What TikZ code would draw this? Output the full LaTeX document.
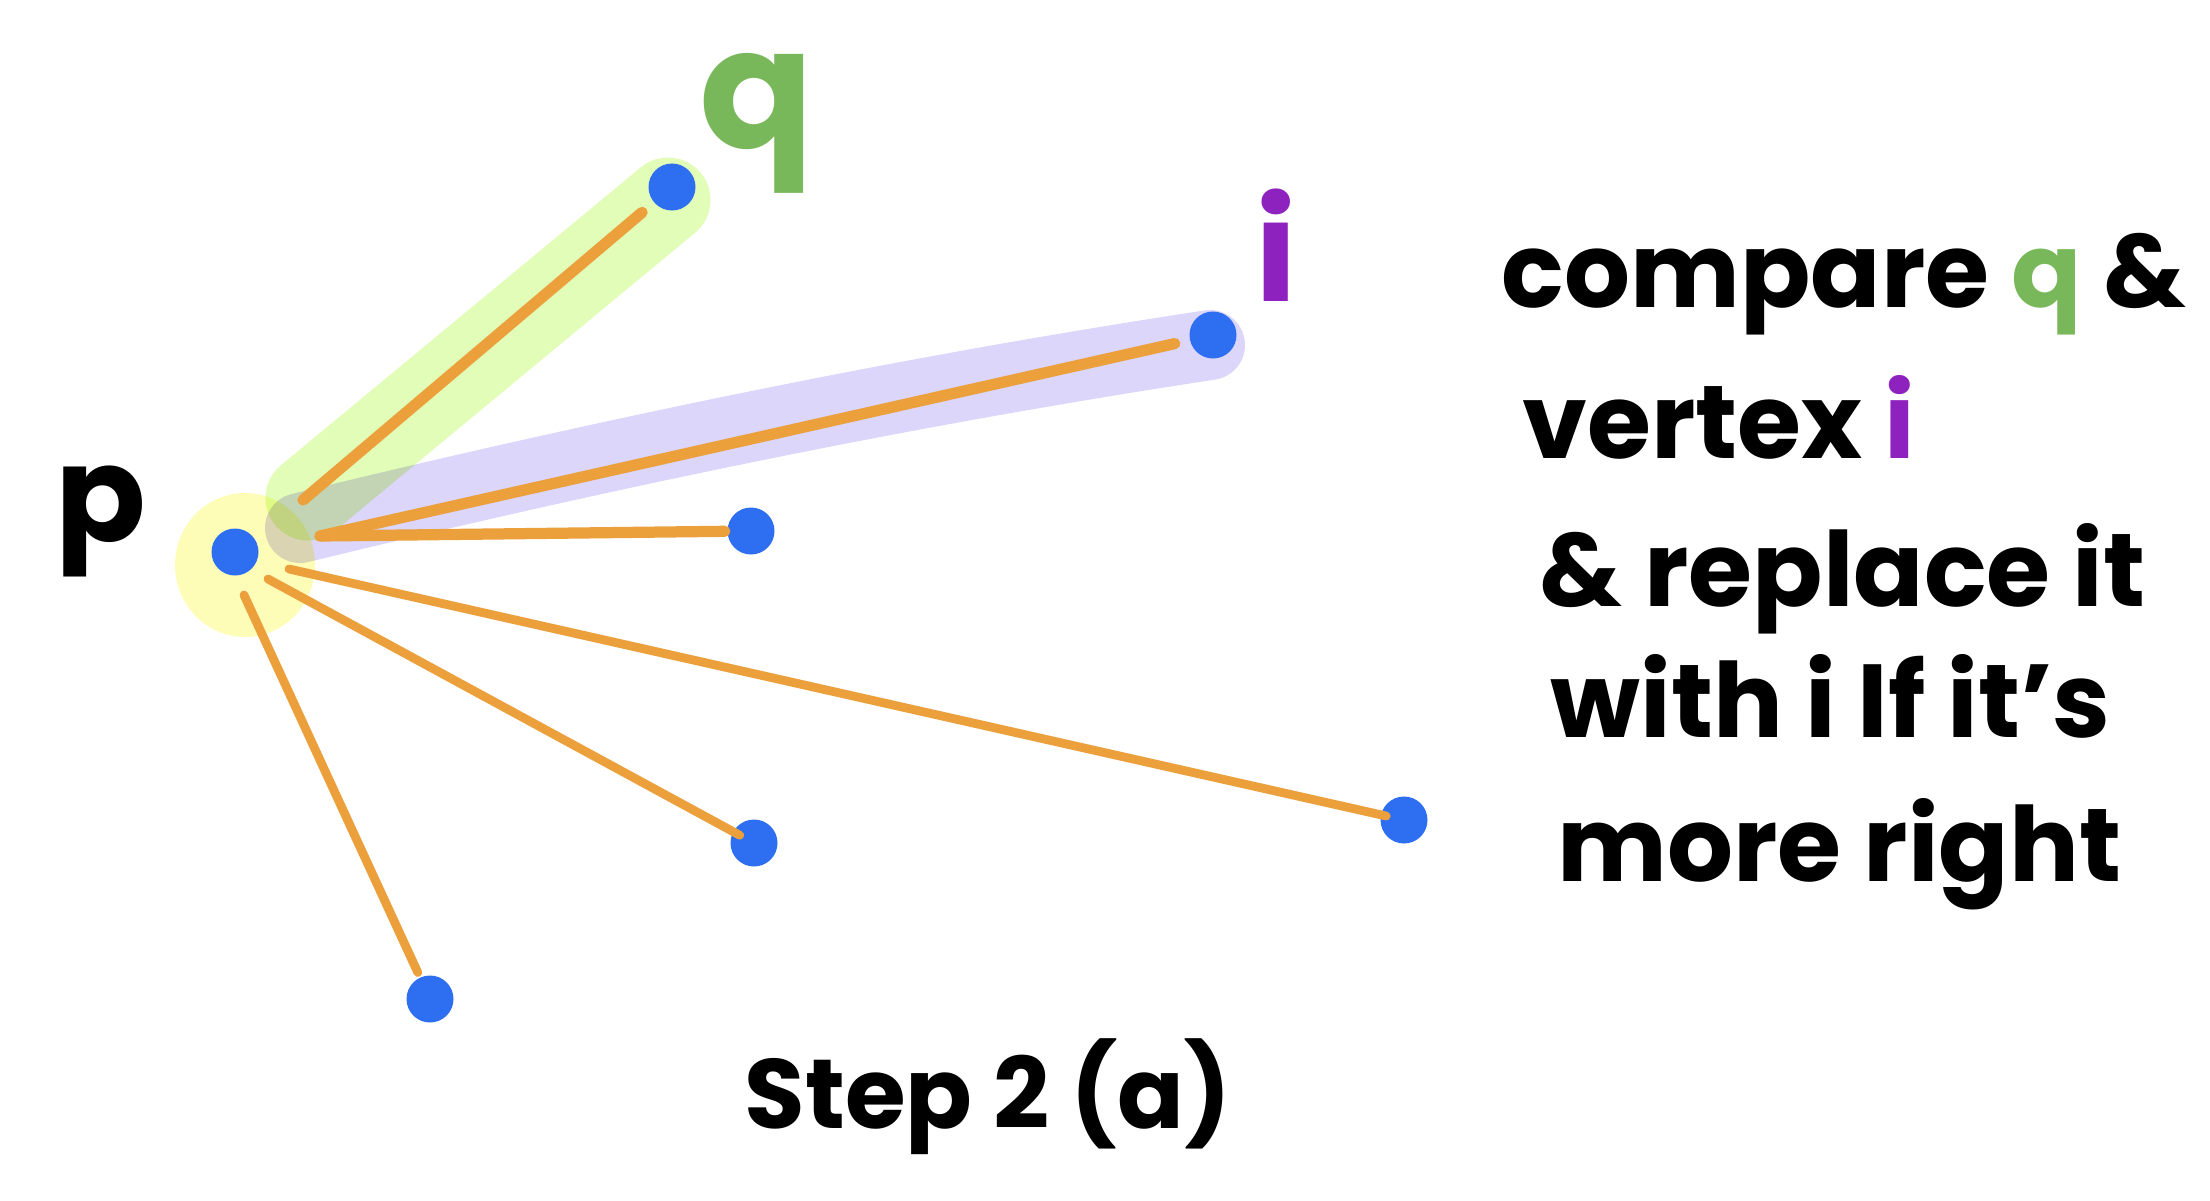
\documentclass[tikz,border=0pt]{standalone}
\usepackage{fontspec}
\setmainfont{Poppins}
\usetikzlibrary{calc}
\definecolor{dotblue}{HTML}{2E6FF2}
\definecolor{edgeorange}{HTML}{EBA03B}
\definecolor{qgreen}{HTML}{79B85A}
\definecolor{ipurple}{HTML}{8E22BF}
\definecolor{hlyellow}{HTML}{FDFDB7}
\definecolor{hlgreen}{HTML}{E2FDB8}
\definecolor{hlpurple}{HTML}{DCD6FA}
\begin{document}
\begin{tikzpicture}[x=0.1mm,y=-0.1mm,
  vdot/.style={circle,fill=dotblue,inner sep=0pt,minimum size=4.7mm},
  edge/.style={draw=edgeorange,line width=3.2pt,line cap=round},
  thinedge/.style={edge,line width=2.5pt},
  hw/.style={font=\bfseries\fontsize{29.5}{36}\selectfont,inner sep=0pt,anchor=base west},
  hlband/.style={line cap=round,line join=round},
]
\useasboundingbox (0,0) rectangle (2210,1200);
% highlights
\begin{scope}[blend group=multiply]
  \fill[hlyellow] (245,565) ellipse [x radius=70, y radius=72];
  \draw[hlband,hlgreen,line width=8.5mm] (308,498) -- (668,200);
  \draw[hlband,hlpurple,line width=7mm] (300,528) .. controls (600,455) and (900,392) .. (1210,345);
\end{scope}
% vertices
\node[vdot] (p) at (235,552) {};
\node[vdot] (q) at (672,187) {};
\node[vdot] (i) at (1213,335) {};
\node[vdot] (m) at (751,531) {};
\node[vdot] (a) at (754,843) {};
\node[vdot] (b) at (1404,820) {};
\node[vdot] (c) at (430,999) {};
% free start points near p
\coordinate (s1) at (303,500);
\coordinate (s2) at (320,536);
\coordinate (s4) at (289,569);
\coordinate (s5) at (268,579);
\coordinate (s6) at (244,595);
% edges
\draw[edge,shorten >=1.5mm] (s1) -- (q);
\draw[edge,shorten >=1.5mm] (s2) -- (i);
\draw[edge,shorten >=0.2mm] (s2) -- (m);
\draw[thinedge,shorten >=-0.6mm] (s4) -- (b);
\draw[thinedge,shorten >=-0.8mm] (s5) -- (a);
\draw[thinedge,shorten >=0.5mm] (s6) -- (c);
% labels
\node[font=\bfseries\fontsize{38}{44}\selectfont] (lp) at (101,521) {p};
\node[text=qgreen,font=\bfseries\fontsize{48}{54}\selectfont] (lq) at (757,123) {q};
\node[text=ipurple,font=\bfseries\fontsize{40}{46}\selectfont] (li) at (1276,245) {i};
% explanation
\node[hw] (t1) at (1501,307) {compare \textcolor{qgreen}{q} \&};
\node[hw] (t2) at (1522,458) {vertex \textcolor{ipurple}{i}};
\node[hw] (t3) at (1539,606) {\& replace it};
\node[hw] (t4) at (1550,737) {with i If it's};
\node[hw] (t5) at (1557,881) {more right};
\node[hw,font=\bfseries\fontsize{28}{34}\selectfont] (step) at (744,1128) {Step 2 (a)};
\end{tikzpicture}
\end{document}
